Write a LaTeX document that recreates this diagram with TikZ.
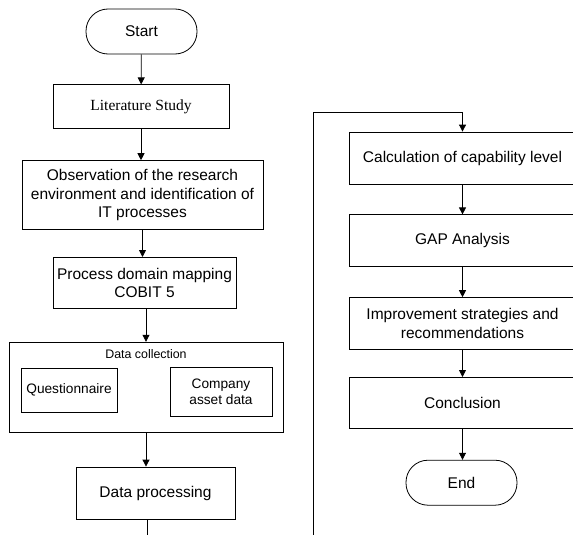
\documentclass[tikz,border=0pt]{standalone}
\usepackage{fontspec}
\setmainfont{Liberation Sans}
\newfontfamily\timesfont{Liberation Serif}
\usepackage{tikz}
\usetikzlibrary{positioning,arrows.meta}

\newcommand{\mainsize}{\fontsize{15.5pt}{18.5pt}\selectfont}
\newcommand{\innersize}{\fontsize{13.7pt}{15.7pt}\selectfont}
\newcommand{\labelsize}{\fontsize{12.4pt}{14.5pt}\selectfont}

\begin{document}
\begin{tikzpicture}[
  x=1pt, y=-1pt,
  stepbox/.style={draw, line width=0.8pt, align=center,
                  font=\mainsize, inner sep=2pt},
  terminal/.style={stepbox, rounded corners=22pt,
                   minimum width=111pt, minimum height=45pt},
  innerbox/.style={stepbox, font=\innersize},
  arrow/.style={line width=0.8pt, -{Triangle[length=7pt,width=7pt]}},
  ]
  \useasboundingbox (0,0) rectangle (573,535);
  \clip (0,0) rectangle (573,535);

  % left column
  \node[terminal] (start) at (141.5,31.5) {Start};
  \node[stepbox, below=30pt of start, xshift=-0.5pt,
        minimum width=176pt, minimum height=44pt,
        font=\mainsize\timesfont] (lit) {Literature Study};
  \node[stepbox, below=31pt of lit, xshift=1.5pt,
        minimum width=241pt, minimum height=69pt] (obs)
    {Observation of the research\\ environment and identification of\\ IT processes};
  \node[stepbox, below=27pt of obs, xshift=2pt,
        minimum width=183pt, minimum height=51pt] (proc)
    {Process domain mapping\\ COBIT 5};
  \node[draw, line width=0.8pt, below=33pt of proc, xshift=1.5pt,
        minimum width=274pt, minimum height=90pt] (dc) {};
  \node[font=\labelsize] (dclabel) at (146,354) {Data collection};
  \node[innerbox, minimum width=96pt, minimum height=44pt] (quest)
    at (69,390) {Questionnaire};
  \node[innerbox, minimum width=102pt, minimum height=49pt] (asset)
    at (221,391.5) {Company\\ asset data};
  \node[stepbox, below=34pt of dc, xshift=9.5pt,
        minimum width=159pt, minimum height=52pt] (dp) {Data processing};
  \coordinate (dpend) at (147,535);

  % right column
  \node[stepbox, minimum width=227pt, minimum height=52pt] (calc)
    at (462.5,158) {Calculation of capability level};
  \node[stepbox, below=30pt of calc,
        minimum width=227pt, minimum height=52pt] (gap) {GAP Analysis};
  \node[stepbox, below=30pt of gap,
        minimum width=227pt, minimum height=52pt] (impr)
    {Improvement strategies and\\ recommendations};
  \node[stepbox, below=27pt of impr,
        minimum width=227pt, minimum height=51pt] (concl) {Conclusion};
  \node[terminal, below=31pt of concl, xshift=-1pt] (end) {End};
  \coordinate (loopstart) at (313,535);
  \coordinate (looptop) at (313,112);

  \draw[arrow] (start) -- (lit);
  \draw[arrow] (lit.south) -- (lit.south |- obs.north);
  \draw[arrow] (obs.south) -- (obs.south |- proc.north);
  \draw[arrow] (dc.north |- proc.south) -- (dc.north);
  \draw[arrow] (dc.south) -- (dc.south |- dp.north);
  \draw[line width=0.8pt] (dp.south -| dpend) -- (dpend);

  \draw[arrow] (loopstart) -- (looptop) -| (calc.north);
  \draw[arrow] (calc) -- (gap);
  \draw[arrow] (gap) -- (impr);
  \draw[arrow] (impr) -- (concl);
  \draw[arrow] (concl.south) -- (concl.south |- end.north);
\end{tikzpicture}
\end{document}
